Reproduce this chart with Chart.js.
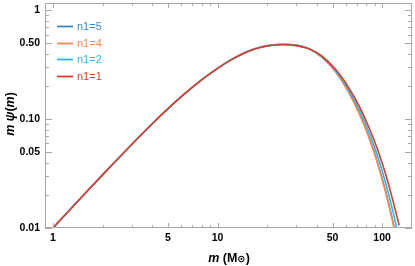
<!DOCTYPE html>
<html>
<head>
<meta charset="utf-8">
<script src="https://cdn.jsdelivr.net/npm/chart.js@4/dist/chart.umd.min.js"></script>
<style>
  html, body { margin: 0; padding: 0; background: #ffffff; }
</style>
</head>
<body>
<canvas id="psiChart" width="415" height="266"></canvas>
<script>
// masses (solar masses) and m*psi(m)
const masses = [1, 1.5, 2, 3, 4, 5, 6, 8, 10, 12, 15, 18, 21, 25, 30, 36, 43, 52, 63, 73, 85, 94, 105, 115, 127];
const psiN5 = [0.0100, 0.0194, 0.0308, 0.0583, 0.0903, 0.1249, 0.1603, 0.2297, 0.2935, 0.3495, 0.4165, 0.4579, 0.4795, 0.4892, 0.4803, 0.4445, 0.3730, 0.2752, 0.1760, 0.1123, 0.0632, 0.0397, 0.0219, 0.0124, 0.0062];
const psiN4 = [0.0100, 0.0194, 0.0308, 0.0583, 0.0903, 0.1249, 0.1603, 0.2297, 0.2935, 0.3495, 0.4165, 0.4579, 0.4795, 0.4890, 0.4800, 0.4440, 0.3720, 0.2740, 0.1740, 0.1108, 0.0622, 0.0389, 0.0214, 0.0121, 0.0060];
const psiN2 = [0.0100, 0.0194, 0.0308, 0.0583, 0.0903, 0.1249, 0.1603, 0.2297, 0.2935, 0.3492, 0.4145, 0.4558, 0.4773, 0.4860, 0.4770, 0.4447, 0.3770, 0.2821, 0.1844, 0.1208, 0.0702, 0.0456, 0.0261, 0.0153, 0.0079];
const psiN1 = [0.0100, 0.0194, 0.0308, 0.0583, 0.0903, 0.1249, 0.1603, 0.2297, 0.2935, 0.3490, 0.4126, 0.4537, 0.4751, 0.4835, 0.4748, 0.4431, 0.3810, 0.2892, 0.1933, 0.1299, 0.0780, 0.0524, 0.0314, 0.0191, 0.0106];

const seriesLabels = ["n1=5", "n1=4", "n1=2", "n1=1"];
const seriesColors = ["#3a86c6", "#f58a4e", "#2cb8ee", "#d5402a"];

const xTickValues = [1, 5, 10, 50, 100];
const xTickLabels = ["1", "5", "10", "50", "100"];
const yTickValues = [0.01, 0.05, 0.1, 0.5, 1];
const yTickLabels = ["0.01", "0.05", "0.10", "0.50", "1"];

const FONT = "'Liberation Sans', Arial, sans-serif";
const FRAME = "#a8a8a8";

function toPoints(ys) {
  return masses.map((m, i) => ({ x: m, y: ys[i] }));
}

function minorValues(lo, hi) {
  const out = [];
  for (let e = -3; e <= 3; e++) {
    for (let k = 1; k <= 9; k++) {
      const v = k * Math.pow(10, e);
      if (v >= lo && v <= hi) out.push(v);
    }
  }
  return out;
}

// frame, inward ticks on all sides, axis titles, legend
const decorations = {
  id: "decorations",
  afterDatasetsDraw(chart) {
    const ctx = chart.ctx;
    const a = chart.chartArea;
    const xs = chart.scales.x, ys = chart.scales.y;
    ctx.save();
    ctx.strokeStyle = FRAME;
    ctx.lineWidth = 1;
    ctx.strokeRect(Math.round(a.left) + 0.5, Math.round(a.top) + 0.5,
                   Math.round(a.right - a.left) - 1, Math.round(a.bottom - a.top) - 1);

    ctx.beginPath();
    minorValues(xs.min, xs.max).forEach(v => {
      const major = xTickValues.includes(v);
      const len = major ? 5 : 3;
      const px = Math.round(xs.getPixelForValue(v)) + 0.5;
      ctx.moveTo(px, a.bottom); ctx.lineTo(px, a.bottom - len);
      ctx.moveTo(px, a.top); ctx.lineTo(px, a.top + len);
    });
    minorValues(ys.min, ys.max).forEach(v => {
      const major = yTickValues.some(t => Math.abs(t - v) < 1e-9);
      const len = major ? 7 : 4;
      const py = Math.round(ys.getPixelForValue(v)) + 0.5;
      ctx.moveTo(a.left, py); ctx.lineTo(a.left + len, py);
      ctx.moveTo(a.right, py); ctx.lineTo(a.right - len, py);
    });
    ctx.stroke();
    ctx.restore();
  },
  afterDraw(chart) {
    const ctx = chart.ctx;
    ctx.save();
    ctx.fillStyle = "#000";
    ctx.textBaseline = "alphabetic";

    const drawParts = (parts, cx, cy) => {
      let total = 0;
      parts.forEach(p => { ctx.font = p[1]; total += ctx.measureText(p[0]).width; });
      let x = cx - total / 2;
      parts.forEach(p => { ctx.font = p[1]; ctx.fillText(p[0], x, cy); x += ctx.measureText(p[0]).width; });
    };

    drawParts([
      ["m", "italic bold 12.5px " + FONT],
      [" (M", "bold 12.5px " + FONT],
      ["\u2299", "bold 10px 'DejaVu Sans', sans-serif"],
      [")", "bold 12.5px " + FONT]
    ], 229, 262);

    ctx.translate(14, 114);
    ctx.rotate(-Math.PI / 2);
    drawParts([
      ["m", "italic bold 12.5px " + FONT],
      [" \u03c8", "italic bold 12.5px " + FONT],
      ["(", "bold 12.5px " + FONT],
      ["m", "italic bold 12.5px " + FONT],
      [")", "bold 12.5px " + FONT]
    ], 0, 0);
    ctx.restore();

    // legend
    ctx.save();
    ctx.font = "11px " + FONT;
    ctx.textBaseline = "middle";
    chart.data.datasets.forEach((ds, i) => {
      const y = Math.round(26 + i * 16.67) + 0.5;
      ctx.strokeStyle = ds.borderColor;
      ctx.lineWidth = 1.8;
      ctx.beginPath(); ctx.moveTo(57, y); ctx.lineTo(73, y); ctx.stroke();
      ctx.fillStyle = ds.borderColor;
      ctx.fillText(ds.label, 77, y);
    });
    ctx.restore();
  }
};

const allSeries = [psiN5, psiN4, psiN2, psiN1];

new Chart(document.getElementById("psiChart"), {
  type: "line",
  data: {
    datasets: allSeries.map((ys, i) => ({
      label: seriesLabels[i],
      data: toPoints(ys),
      borderColor: seriesColors[i],
      borderWidth: 1.6,
      pointRadius: 0,
      cubicInterpolationMode: "monotone",
      clip: 0,
      order: allSeries.length - i
    }))
  },
  options: {
    responsive: false,
    animation: false,
    events: [],
    layout: { padding: { top: 3, right: 3, left: 0, bottom: 0 } },
    plugins: { legend: { display: false }, tooltip: { enabled: false } },
    scales: {
      x: {
        type: "logarithmic",
        min: 0.894,
        max: 152,
        grid: { display: false, drawTicks: false },
        border: { display: false },
        afterBuildTicks: s => { s.ticks = xTickValues.map(v => ({ value: v })); },
        afterFit: s => { s.height = 38; s.paddingLeft = 0; s.paddingRight = 0; },
        ticks: {
          autoSkip: false,
          maxRotation: 0,
          padding: 4,
          color: "#000",
          font: { family: FONT, size: 10.5, weight: "bold" },
          callback: (v, i) => xTickLabels[i]
        }
      },
      y: {
        type: "logarithmic",
        min: 0.01,
        max: 1.17,
        grid: { display: false, drawTicks: false },
        border: { display: false },
        afterBuildTicks: s => { s.ticks = yTickValues.map(v => ({ value: v })); },
        afterFit: s => { s.width = 45; s.paddingTop = 0; s.paddingBottom = 0; },
        ticks: {
          autoSkip: false,
          padding: 5,
          color: "#000",
          font: { family: FONT, size: 10.5, weight: "bold" },
          callback: (v, i) => yTickLabels[i]
        }
      }
    }
  },
  plugins: [decorations]
});
</script>
</body>
</html>
